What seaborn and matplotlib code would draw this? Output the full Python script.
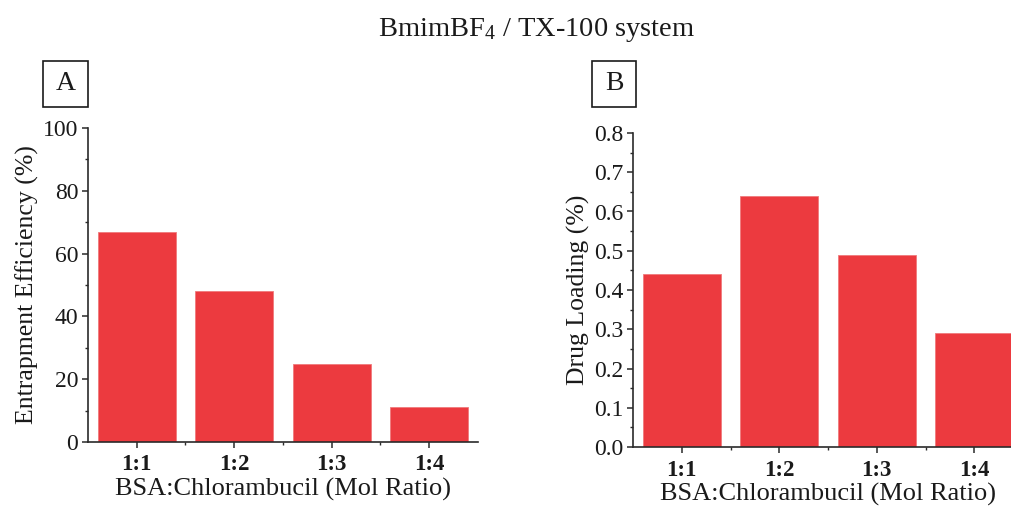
import matplotlib
matplotlib.use("Agg")
import matplotlib.pyplot as plt
from matplotlib.patches import Rectangle
from matplotlib.ticker import MultipleLocator, AutoMinorLocator, FormatStrFormatter
import seaborn as sns
import pandas as pd

# Data
ratios = ["1:1", "1:2", "1:3", "1:4"]
entrapment_efficiency = [67, 48, 25, 11]
drug_loading = [0.44, 0.64, 0.49, 0.29]

title = "BmimBF$_4$ / TX-100 system"
xlabel = "BSA:Chlorambucil (Mol Ratio)"
ylabel_a = "Entrapment Efficiency (%)"
ylabel_b = "Drug Loading (%)"

sns.set_theme(style="ticks")
plt.rcParams["font.family"] = ["Liberation Serif", "DejaVu Serif"]
plt.rcParams["mathtext.fontset"] = "custom"
plt.rcParams["mathtext.rm"] = "Liberation Serif"
plt.rcParams["mathtext.it"] = "Liberation Serif:italic"

BAR = "#EC3A3F"
INK = "#2a2a2a"
TXT = "#1a1a1a"

W, H = 1012, 511
fig = plt.figure(figsize=(W / 100, H / 100), dpi=100)


def px_axes(left, top, right, bottom):
    return fig.add_axes([left / W, 1 - bottom / H, (right - left) / W, (bottom - top) / H])


ax_a = px_axes(88, 128, 478, 442)
ax_b = px_axes(633, 133, 1023, 447)

df_a = pd.DataFrame({"ratio": ratios, "value": entrapment_efficiency})
df_b = pd.DataFrame({"ratio": ratios, "value": drug_loading})

sns.barplot(data=df_a, x="ratio", y="value", color=BAR, saturation=1, width=0.8, ax=ax_a)
sns.barplot(data=df_b, x="ratio", y="value", color=BAR, saturation=1, width=0.8, ax=ax_b)

for ax, ylab, ymax, step in [(ax_a, ylabel_a, 100, 20), (ax_b, ylabel_b, 0.8, 0.1)]:
    for p in ax.patches:
        p.set_edgecolor("#f07a7c")
        p.set_linewidth(0.6)
    ax.set_xlim(-0.5, 3.5)
    ax.set_ylim(0, ymax)
    ax.yaxis.set_major_locator(MultipleLocator(step))
    ax.yaxis.set_minor_locator(AutoMinorLocator(2))
    ax.set_xticks(range(len(ratios)))
    ax.set_xticks([0.5, 1.5, 2.5], minor=True)
    ax.set_xticklabels(ratios, fontweight="bold", fontsize=16.5)
    ax.tick_params(axis="y", labelsize=17, direction="out", length=4, width=1.1,
                   colors=INK, labelcolor=TXT, pad=3)
    ax.tick_params(axis="x", direction="out", length=4, width=1.1, colors=INK,
                   labelcolor=TXT, pad=5)
    ax.tick_params(which="minor", direction="out", length=2.5, width=1.0, colors=INK)
    sns.despine(ax=ax)
    for s in ("left", "bottom"):
        ax.spines[s].set_linewidth(1.2)
        ax.spines[s].set_color(INK)
    ax.set_xlabel(xlabel, fontsize=19, color=TXT, labelpad=2)
    ax.set_ylabel(ylab, fontsize=18.5, color=TXT, labelpad=3)

ax_b.yaxis.set_major_formatter(FormatStrFormatter("%.1f"))

# Panel tags
for (l, t, r, b), tag in [((43, 61, 88, 107), "A"), ((592, 61, 636, 107), "B")]:
    fig.patches.append(Rectangle((l / W, 1 - b / H), (r - l) / W, (b - t) / H,
                                 transform=fig.transFigure, fill=False,
                                 edgecolor=TXT, linewidth=1.2))
    fig.text((l + r) / 2 / W, 1 - (t + b) / 2 / H, tag, ha="center", va="center",
             fontsize=20, color=TXT)

fig.text(537 / W, 1 - 30 / H, title, ha="center", va="center", fontsize=20.5, color=TXT)

fig.savefig("out.png", dpi=100, facecolor="white")
